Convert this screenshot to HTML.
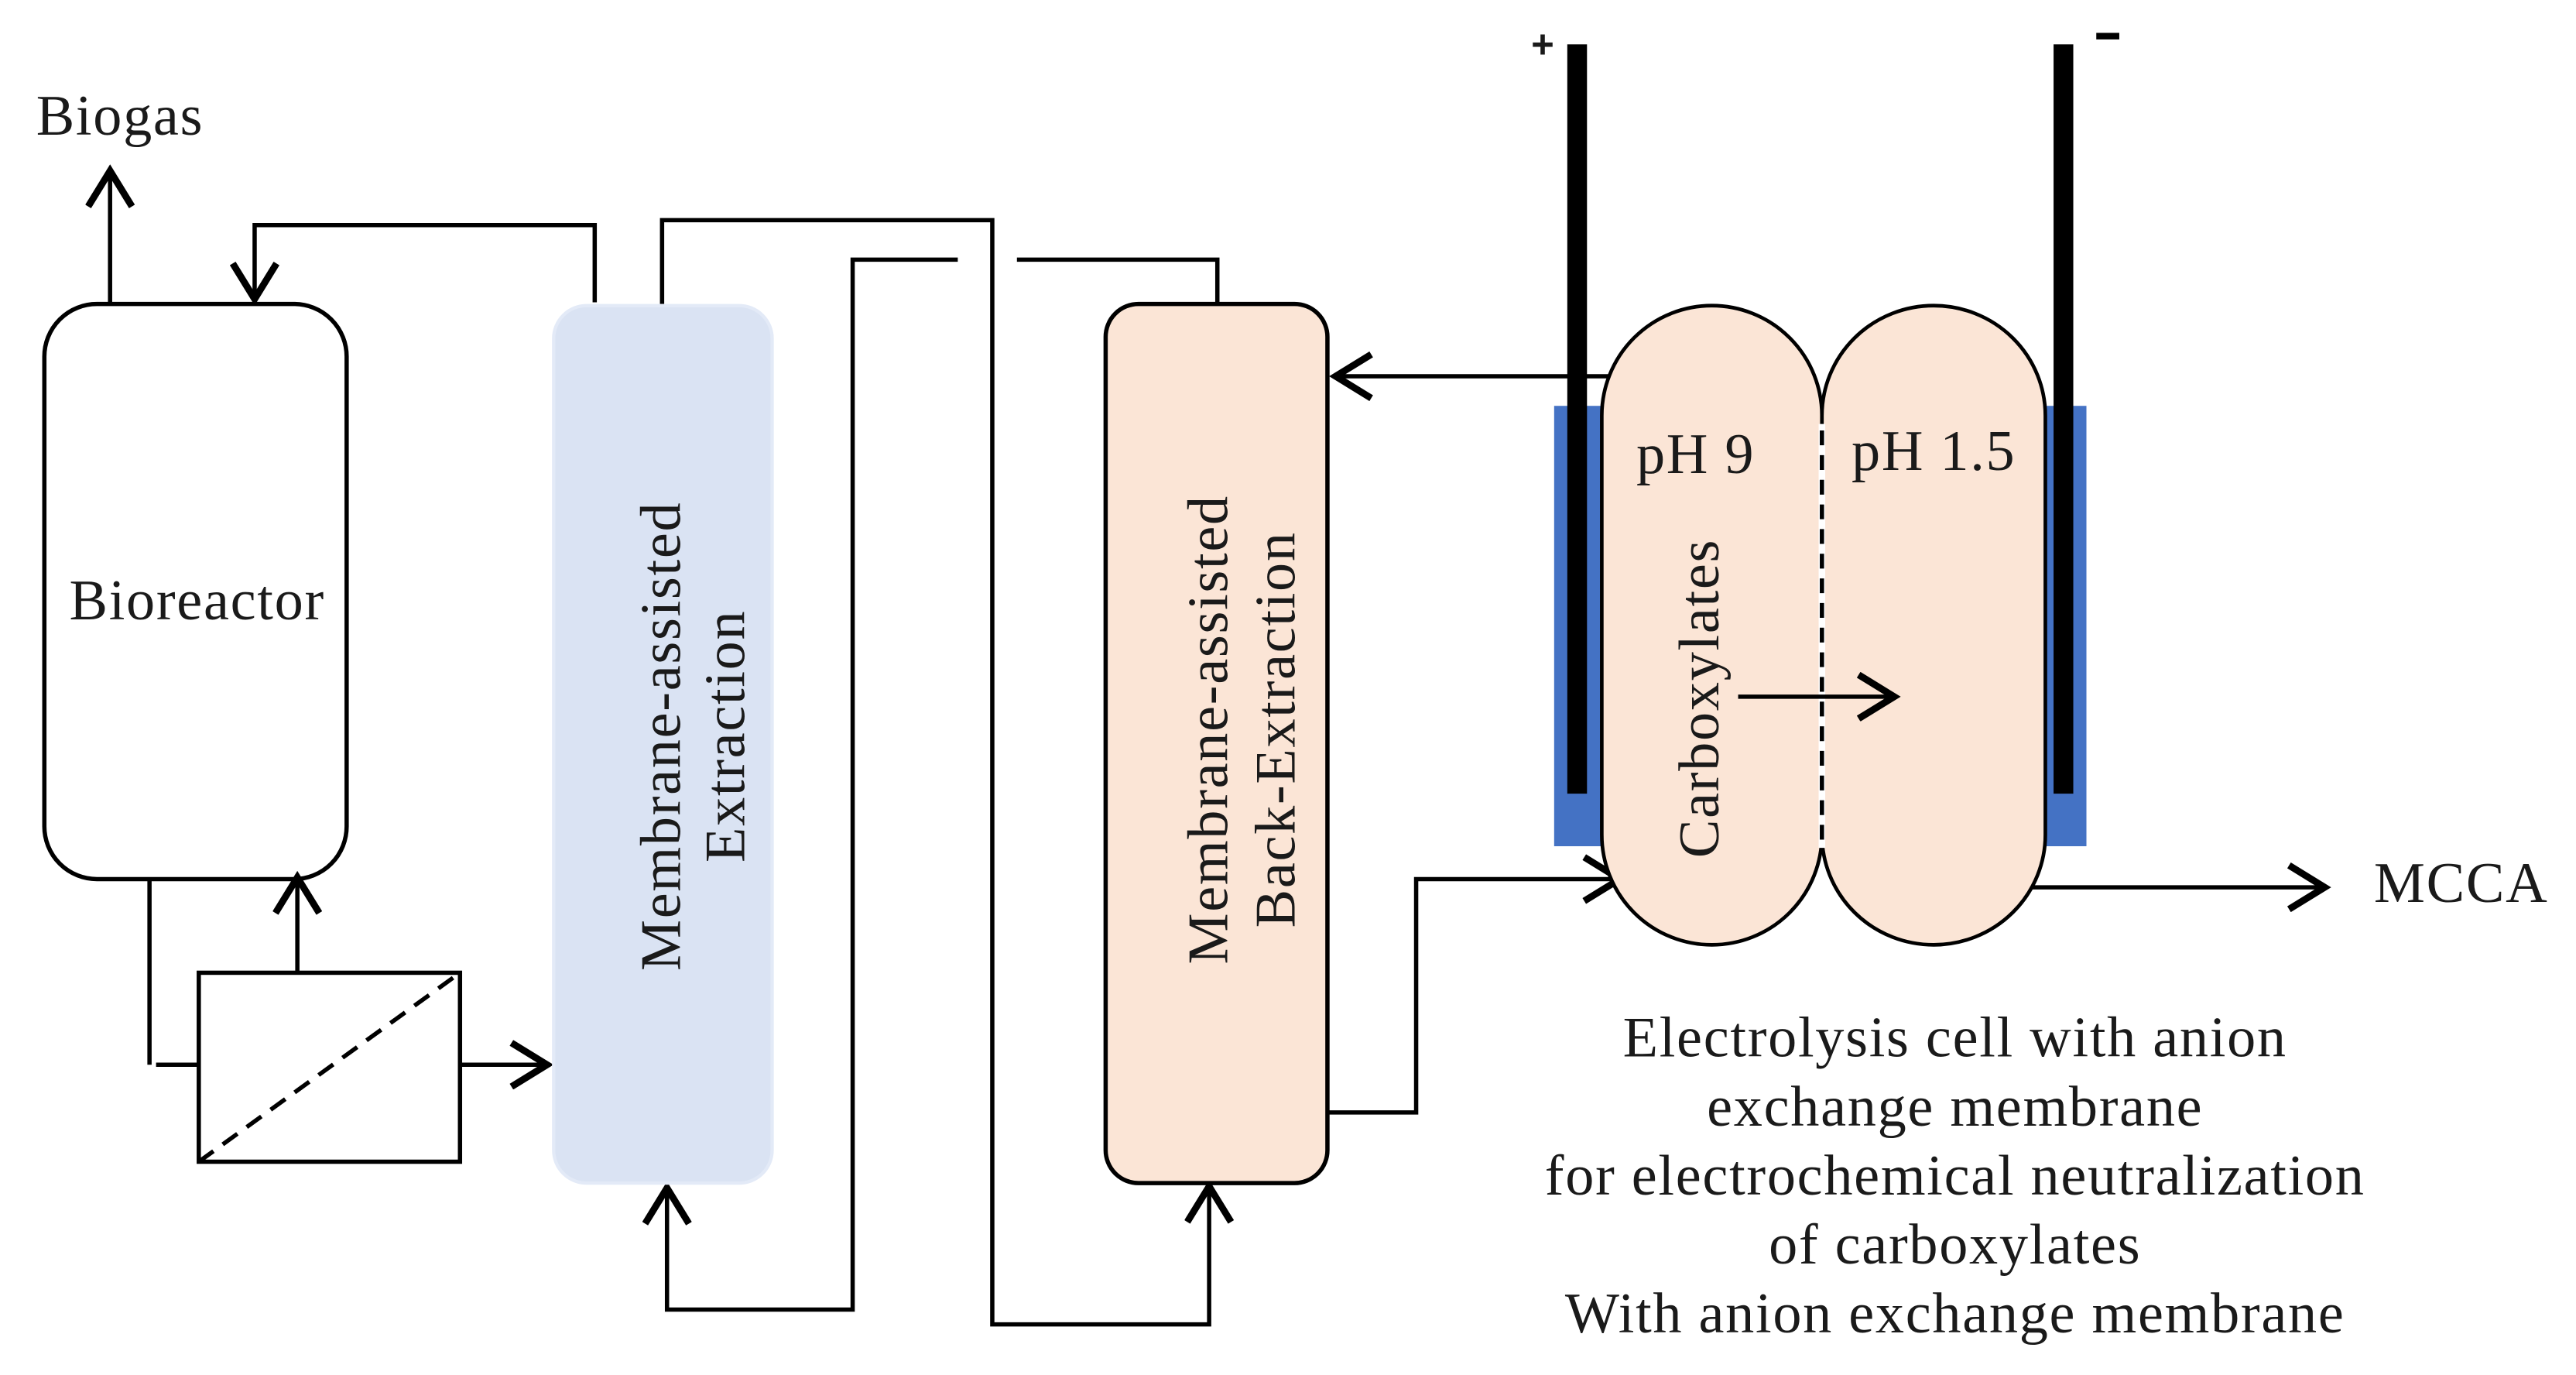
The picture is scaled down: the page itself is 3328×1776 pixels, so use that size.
<!DOCTYPE html>
<html><head><meta charset="utf-8"><style>html,body{margin:0;padding:0;background:#fff}svg{display:block}</style></head>
<body>
<svg width="3328" height="1776" viewBox="0 0 1568 836.8" preserveAspectRatio="none" xmlns="http://www.w3.org/2000/svg" font-family="Liberation Serif, serif">
<defs>
<marker id="a" markerWidth="30" markerHeight="30" refX="14" refY="9" orient="auto" markerUnits="userSpaceOnUse" viewBox="0 0 16 18">
<path d="M1,1 L14,9 L1,17" fill="none" stroke="#000" stroke-width="2.5"/>
</marker>
</defs>
<g stroke="#000" stroke-width="2.6" fill="none">
<line x1="67" y1="184" x2="67" y2="104" marker-end="url(#a)"/>
<rect x="27" y="185" width="184" height="350" rx="32" fill="#fff"/>
<polyline points="362,184 362,137 155,137 155,182" marker-end="url(#a)"/>
<rect x="121" y="592" width="159" height="115" fill="#fff"/>
<line x1="121" y1="707" x2="280" y2="592" stroke-dasharray="11,7"/>
<polyline points="91,535 91,648"/>
<line x1="95" y1="648" x2="121" y2="648"/>
<line x1="181" y1="592" x2="181" y2="534" marker-end="url(#a)"/>
<line x1="280" y1="648" x2="333" y2="648" marker-end="url(#a)"/>
<polyline points="403,185 403,134 604,134 604,806 736,806 736,722" marker-end="url(#a)"/>
<polyline points="741,184 741,158 619,158"/>
<polyline points="583,158 519,158 519,797 406,797 406,723" marker-end="url(#a)"/>
<polyline points="808,677 862,677 862,535 986,535" marker-end="url(#a)"/>
<line x1="980" y1="229" x2="813" y2="229" marker-end="url(#a)"/>
<line x1="1237" y1="540" x2="1415" y2="540" marker-end="url(#a)"/>
</g>
<rect x="337" y="186" width="133" height="534" rx="20" fill="#dae3f3" stroke="#e3eaf7" stroke-width="2"/>
<rect x="673" y="185" width="135" height="535" rx="20" fill="#fbe5d6" stroke="#000" stroke-width="2.6"/>
<rect x="946" y="247" width="30" height="268" fill="#4472c4"/>
<rect x="1243" y="247" width="27" height="268" fill="#4472c4"/>
<path d="M975,253 A67,67 0 0 1 1109,253 L1109,508 A67,67 0 0 1 975,508 Z" fill="#fbe5d6" stroke="#000" stroke-width="2.2"/>
<path d="M1109,253 A68,67 0 0 1 1245,253 L1245,508 A68,67 0 0 1 1109,508 Z" fill="#fbe5d6" stroke="#000" stroke-width="2.2"/>
<line x1="1109" y1="258" x2="1109" y2="516" stroke="#fff" stroke-width="4"/>
<line x1="1109" y1="262" x2="1109" y2="516" stroke="#000" stroke-width="2.6" stroke-dasharray="9,6"/>
<rect x="954" y="27" width="12" height="456" fill="#000"/>
<rect x="1250" y="27" width="12" height="456" fill="#000"/>
<line x1="1058" y1="424" x2="1153" y2="424" stroke="#000" stroke-width="2.6" marker-end="url(#a)"/>
<g fill="#1a1a1a" font-size="35" letter-spacing="0.8">
<text x="22" y="82">Biogas</text>
<text x="120" y="377" text-anchor="middle">Bioreactor</text>
<text transform="translate(414,448) rotate(-90)" text-anchor="middle">Membrane-assisted</text>
<text transform="translate(453,448) rotate(-90)" text-anchor="middle">Extraction</text>
<text transform="translate(747,444) rotate(-90)" text-anchor="middle">Membrane-assisted</text>
<text transform="translate(788,444) rotate(-90)" text-anchor="middle">Back-Extraction</text>
<text x="996" y="288">pH 9</text>
<text x="1127" y="286">pH 1.5</text>
<text transform="translate(1046,425) rotate(-90)" text-anchor="middle">Carboxylates</text>
<text x="1445" y="549">MCCA</text>
<g text-anchor="middle">
<text x="1190" y="643">Electrolysis cell with anion</text>
<text x="1190" y="685">exchange membrane</text>
<text x="1190" y="727">for electrochemical neutralization</text>
<text x="1190" y="769">of carboxylates</text>
<text x="1190" y="811">With anion exchange membrane</text>
</g>
<text x="932" y="35" font-size="24" font-weight="bold" font-family="Liberation Sans, sans-serif">+</text>
<rect x="1276" y="20" width="14" height="4" fill="#000"/>
</g>
</svg>
</body></html>
